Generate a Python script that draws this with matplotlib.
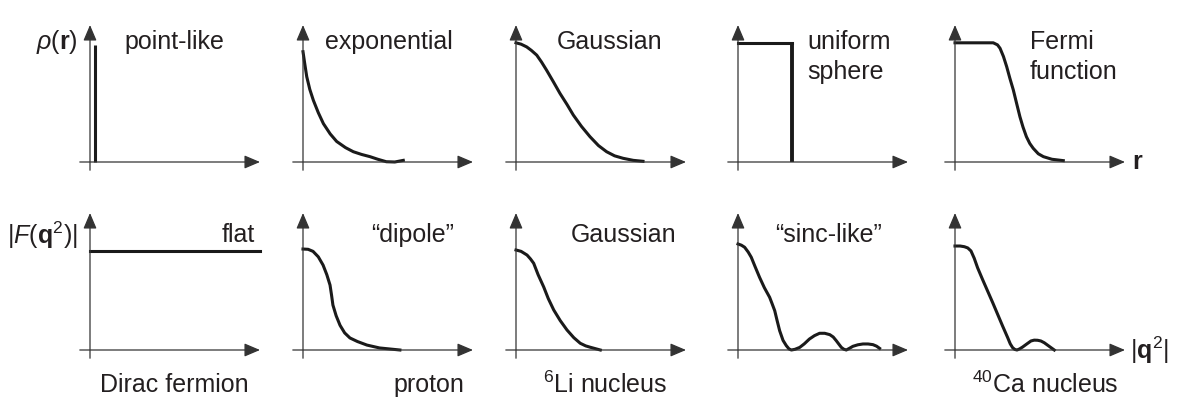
import numpy as np
import matplotlib
matplotlib.use("Agg")
import matplotlib.pyplot as plt

plt.rcParams['font.family'] = ['Liberation Sans', 'DejaVu Sans']
plt.rcParams['mathtext.fontset'] = 'custom'
plt.rcParams['mathtext.rm'] = 'Liberation Sans'
plt.rcParams['mathtext.it'] = 'Liberation Sans:italic'
plt.rcParams['mathtext.bf'] = 'Liberation Sans:bold'

# --- curve data (x, y in units of the sketch axes) ---
point_x = [0.03, 0.03]
point_y = [0.0, 0.854]

expo_x = [0, 0.01, 0.022, 0.04, 0.061, 0.09, 0.12, 0.16, 0.198, 0.25, 0.296,
          0.345, 0.394, 0.44, 0.49, 0.54, 0.59]
expo_y = [0.805, 0.72, 0.623, 0.53, 0.45, 0.36, 0.28, 0.205, 0.15, 0.105, 0.075,
          0.055, 0.039, 0.02, 0.002, 0.0, 0.012]

gauss_r_x = [0, 0.03, 0.063, 0.09, 0.122, 0.15, 0.18, 0.22, 0.259, 0.30, 0.337,
             0.385, 0.435, 0.485, 0.533, 0.58, 0.63, 0.69, 0.747]
gauss_r_y = [0.87, 0.86, 0.84, 0.815, 0.78, 0.73, 0.67, 0.585, 0.50, 0.42, 0.343,
             0.26, 0.185, 0.12, 0.075, 0.045, 0.027, 0.012, 0.005]

sphere_top_x = [0, 0.316]
sphere_top_y = [0.87, 0.87]
sphere_edge_x = [0.316, 0.316]
sphere_edge_y = [0.87, 0.0]

fermi_x = [0, 0.225, 0.25, 0.265, 0.285, 0.304, 0.323, 0.343, 0.362, 0.382, 0.40,
           0.42, 0.44, 0.46, 0.49, 0.52, 0.57, 0.637]
fermi_y = [0.87, 0.87, 0.855, 0.83, 0.77, 0.696, 0.61, 0.526, 0.43, 0.33, 0.255,
           0.185, 0.135, 0.10, 0.06, 0.039, 0.02, 0.01]

flat_x = [0, 1.0]
flat_y = [0.72, 0.72]

dipole_x = [0, 0.03, 0.059, 0.09, 0.118, 0.14, 0.159, 0.168, 0.176, 0.195, 0.218,
            0.245, 0.276, 0.32, 0.376, 0.45, 0.57]
dipole_y = [0.737, 0.735, 0.72, 0.68, 0.62, 0.55, 0.474, 0.40, 0.328, 0.25, 0.18,
            0.125, 0.088, 0.062, 0.036, 0.015, 0.0]

gauss_q_x = [0, 0.03, 0.065, 0.085, 0.104, 0.13, 0.163, 0.19, 0.222, 0.26, 0.30,
             0.34, 0.378, 0.41, 0.437, 0.496]
gauss_q_y = [0.73, 0.72, 0.693, 0.665, 0.633, 0.55, 0.46, 0.375, 0.292, 0.215, 0.146,
             0.09, 0.049, 0.03, 0.02, 0.0]

sinc_x = [0, 0.02, 0.039, 0.06, 0.078, 0.10, 0.127, 0.155, 0.186, 0.20, 0.216, 0.23,
          0.245, 0.265, 0.284, 0.30, 0.314, 0.335, 0.363, 0.39, 0.42, 0.45, 0.48,
          0.51, 0.54, 0.56, 0.578, 0.595, 0.608, 0.622, 0.637, 0.655, 0.676, 0.705,
          0.735, 0.765, 0.794, 0.815, 0.833]
sinc_y = [0.774, 0.765, 0.75, 0.715, 0.677, 0.61, 0.53, 0.455, 0.385, 0.34, 0.287, 0.215,
          0.141, 0.07, 0.032, 0.008, 0.0, 0.005, 0.019, 0.045, 0.08, 0.105, 0.122,
          0.122, 0.112, 0.095, 0.068, 0.04, 0.019, 0.006, 0.0, 0.012, 0.027, 0.038,
          0.044, 0.044, 0.039, 0.028, 0.012]

ca_x = [0, 0.03, 0.055, 0.075, 0.094, 0.113, 0.133, 0.162, 0.192, 0.222, 0.251, 0.28,
        0.31, 0.325, 0.339, 0.352, 0.365, 0.38, 0.398, 0.42, 0.447, 0.466, 0.486,
        0.505, 0.525, 0.545, 0.565, 0.584]
ca_y = [0.759, 0.759, 0.754, 0.745, 0.723, 0.67, 0.60, 0.515, 0.43, 0.345, 0.26, 0.175,
        0.09, 0.045, 0.017, 0.004, 0.0, 0.008, 0.022, 0.042, 0.066, 0.072, 0.071,
        0.066, 0.053, 0.035, 0.017, 0.0]

# panel origins in pixels (x from left, y from top)
col_x = [90, 303, 516, 738, 955]
row_y = [162, 350]
UX, UY = 170.0, 137.0
W, H = 1186, 412

TXT = '#231f20'
LINE = '#1a1a1a'
AXC = '#333333'
FS = 18

fig = plt.figure(figsize=(W / 100, H / 100), dpi=100)


def panel(r, c):
    ox, oy = col_x[c], row_y[r]
    x0, x1, y0, y1 = -0.1, 1.1, -0.1, 1.05
    left = (ox + x0 * UX) / W
    bottom = (H - oy + y0 * UY) / H
    ax = fig.add_axes([left, bottom, (x1 - x0) * UX / W, (y1 - y0) * UY / H])
    ax.set_xlim(x0, x1)
    ax.set_ylim(y0, y1)
    ax.axis('off')
    style = '-|>,head_length=0.8,head_width=0.34'
    kw = dict(arrowstyle=style, lw=0.9, color=AXC, mutation_scale=12,
              shrinkA=0, shrinkB=0)
    ax.annotate('', xy=(1.0, 0), xytext=(-0.06, 0), arrowprops=kw)
    ax.annotate('', xy=(0, 1.0), xytext=(0, -0.06), arrowprops=kw)
    return ax


def txt(ax, x, y, s, **kw):
    ax.text(x, y, s, fontsize=FS, color=TXT, clip_on=False, **kw)


lw = 2.2

# row 1: charge distributions
ax = panel(0, 0)
ax.plot(point_x, point_y, color=LINE, lw=lw, solid_capstyle='butt')
txt(ax, 0.2, 0.876, 'point-like', va='center')
txt(ax, -0.07, 0.876, r'$\rho(\mathbf{r})$', ha='right', va='center')

ax = panel(0, 1)
ax.plot(expo_x, expo_y, color=LINE, lw=lw, solid_joinstyle='round')
txt(ax, 0.13, 0.876, 'exponential', va='center')

ax = panel(0, 2)
ax.plot(gauss_r_x, gauss_r_y, color=LINE, lw=lw, solid_joinstyle='round')
txt(ax, 0.24, 0.876, 'Gaussian', va='center')

ax = panel(0, 3)
ax.plot(sphere_top_x, sphere_top_y, color=LINE, lw=lw, solid_capstyle='projecting')
ax.plot(sphere_edge_x, sphere_edge_y, color=LINE, lw=lw + 0.6, solid_capstyle='butt')
txt(ax, 0.41, 0.766, 'uniform\nsphere', va='center', linespacing=1.32)

ax = panel(0, 4)
ax.plot(fermi_x, fermi_y, color=LINE, lw=lw, solid_joinstyle='round')
txt(ax, 0.44, 0.766, 'Fermi\nfunction', va='center', linespacing=1.32)
txt(ax, 1.04, 0.0, r'$\mathbf{r}$', va='center')

# row 2: form factors
ax = panel(1, 0)
ax.plot(flat_x, flat_y, color=LINE, lw=lw)
txt(ax, 0.97, 0.84, 'flat', ha='right', va='center')
txt(ax, -0.07, 0.84, r'$|F(\mathbf{q}^2)|$', ha='right', va='center')
txt(ax, 0.06, -0.255, 'Dirac fermion', va='center')

ax = panel(1, 1)
ax.plot(dipole_x, dipole_y, color=LINE, lw=lw, solid_joinstyle='round')
txt(ax, 0.89, 0.84, '\u201cdipole\u201d', ha='right', va='center')
txt(ax, 0.95, -0.255, 'proton', ha='right', va='center')

ax = panel(1, 2)
ax.plot(gauss_q_x, gauss_q_y, color=LINE, lw=lw, solid_joinstyle='round')
txt(ax, 0.32, 0.84, 'Gaussian', va='center')
txt(ax, 0.16, -0.255, r'$^{6}$Li nucleus', va='center')

ax = panel(1, 3)
ax.plot(sinc_x, sinc_y, color=LINE, lw=lw, solid_joinstyle='round')
txt(ax, 0.22, 0.84, '\u201csinc-like\u201d', va='center')

ax = panel(1, 4)
ax.plot(ca_x, ca_y, color=LINE, lw=lw, solid_joinstyle='round')
txt(ax, 0.1, -0.255, r'$^{40}$Ca nucleus', va='center')
txt(ax, 1.03, 0.0, r'$|\mathbf{q}^2|$', va='center')

fig.savefig('out.png', dpi=100)
